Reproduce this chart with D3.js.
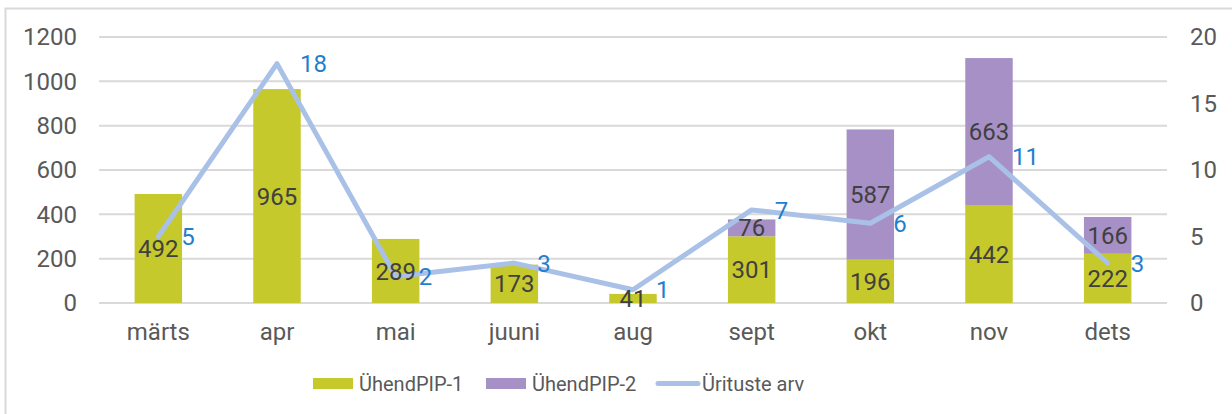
<!DOCTYPE html>
<html>
<head>
<meta charset="utf-8">
<script src="https://cdn.jsdelivr.net/npm/d3@7"></script>
<style>
	body { margin: 0; background: #fff; }
	svg { font-family: Roboto, sans-serif; }
</style>
</head>
<body>
<svg id="chart" width="1232" height="414"></svg>
<script>
const months = ['märts', 'apr', 'mai', 'juuni', 'aug', 'sept', 'okt', 'nov', 'dets'];
const pip1 = [492, 965, 289, 173, 41, 301, 196, 442, 222];
const pip2 = [0, 0, 0, 0, 0, 76, 587, 663, 166];
const events = [5, 18, 2, 3, 1, 7, 6, 11, 3];
const leftTicks = [0, 200, 400, 600, 800, 1000, 1200];
const rightTicks = [0, 5, 10, 15, 20];
const seriesNames = ['ÜhendPIP-1', 'ÜhendPIP-2', 'Ürituste arv'];

const colors = { p1: '#c5c92c', p2: '#a790c6', line: '#aac1e7' };

const svg = d3.select('#chart');
const m = { left: 99, right: 1167, top: 37, bottom: 303 };
const fs = 24; // axis + label font size

// outer frame
svg.append('rect')
	.attr('x', 5.5).attr('y', 8.5)
	.attr('width', 1240).attr('height', 420)
	.attr('fill', 'none').attr('stroke', '#d9d9d9').attr('stroke-width', 2);

const x = d3.scaleBand().domain(months).range([m.left, m.right]).paddingInner(0.6).paddingOuter(0.3);
const y = d3.scaleLinear().domain([0, 1200]).range([m.bottom, m.top]);
const y2 = d3.scaleLinear().domain([0, 20]).range([m.bottom, m.top]);

// gridlines
svg.append('g')
	.selectAll('line')
	.data(leftTicks)
	.enter()
	.append('line')
		.attr('x1', m.left).attr('x2', m.right)
		.attr('y1', d => y(d)).attr('y2', d => y(d))
		.attr('stroke', '#d9d9d9').attr('stroke-width', 2);

function styleAxis (g) {
	g.select('.domain').remove();
	g.selectAll('text')
		.attr('font-size', fs)
		.attr('fill', '#595959')
		.attr('font-family', 'Roboto');
}

// left axis
svg.append('g')
	.attr('transform', `translate(${m.left - 22},0)`)
	.call(d3.axisLeft(y).tickValues(leftTicks).tickFormat(d3.format('d')).tickSize(0).tickPadding(0))
	.call(styleAxis);

// right axis
svg.append('g')
	.attr('transform', `translate(${m.right + 23},0)`)
	.call(d3.axisRight(y2).tickValues(rightTicks).tickFormat(d3.format('d')).tickSize(0).tickPadding(0))
	.call(styleAxis);

// x axis
svg.append('g')
	.attr('transform', `translate(0,${m.bottom + 20})`)
	.call(d3.axisBottom(x).tickSize(0).tickPadding(0))
	.call(styleAxis);

// stacked bars
const stacked = d3.stack().keys(['p1', 'p2'])(months.map((mo, i) => ({ mo, p1: pip1[i], p2: pip2[i] })));

const bars = svg.append('g');
stacked.forEach(layer => {
	bars.append('g')
		.attr('fill', colors[layer.key])
		.selectAll('rect')
		.data(layer.filter(d => d[1] - d[0] > 0))
		.enter()
		.append('rect')
			.attr('x', d => x(d.data.mo))
			.attr('width', x.bandwidth())
			.attr('y', d => y(d[1]))
			.attr('height', d => y(d[0]) - y(d[1]));
});

// line
const lineGen = d3.line()
	.x((d, i) => x(months[i]) + x.bandwidth() / 2)
	.y(d => y2(d));

svg.append('path')
	.datum(events)
	.attr('d', lineGen)
	.attr('fill', 'none')
	.attr('stroke', colors.line)
	.attr('stroke-width', 5)
	.attr('stroke-linejoin', 'round')
	.attr('stroke-linecap', 'round');

// bar labels
stacked.forEach(layer => {
	svg.append('g')
		.selectAll('text')
		.data(layer.filter(d => d[1] - d[0] > 0))
		.enter()
		.append('text')
			.attr('x', d => x(d.data.mo) + x.bandwidth() / 2)
			.attr('y', d => (y(d[0]) + y(d[1])) / 2)
			.attr('dy', '0.36em')
			.attr('text-anchor', 'middle')
			.attr('font-size', fs)
			.attr('fill', '#404040')
			.text(d => d[1] - d[0]);
});

// line labels
svg.append('g')
	.selectAll('text')
	.data(events)
	.enter()
	.append('text')
		.attr('x', (d, i) => x(months[i]) + x.bandwidth() / 2 + 23)
		.attr('y', d => y2(d))
		.attr('dy', '0.36em')
		.attr('font-size', fs)
		.attr('fill', '#1f7fcf')
		.text(d => d);

// legend
const legend = svg.append('g').attr('transform', 'translate(0,383.5)');
const legendItems = [
	{ name: seriesNames[0], x: 313, type: 'rect', color: colors.p1 },
	{ name: seriesNames[1], x: 486, type: 'rect', color: colors.p2 },
	{ name: seriesNames[2], x: 656, type: 'line', color: colors.line }
];
legendItems.forEach(it => {
	if (it.type === 'rect') {
		legend.append('rect')
			.attr('x', it.x).attr('y', -5.5)
			.attr('width', 40).attr('height', 11)
			.attr('fill', it.color);
	} else {
		legend.append('line')
			.attr('x1', it.x + 2).attr('x2', it.x + 42)
			.attr('stroke', it.color).attr('stroke-width', 5)
			.attr('stroke-linecap', 'round');
	}
	legend.append('text')
		.attr('x', it.x + 46)
		.attr('y', 7.5)
		.attr('font-size', 20)
		.attr('fill', '#595959')
		.text(it.name);
});
</script>
</body>
</html>
